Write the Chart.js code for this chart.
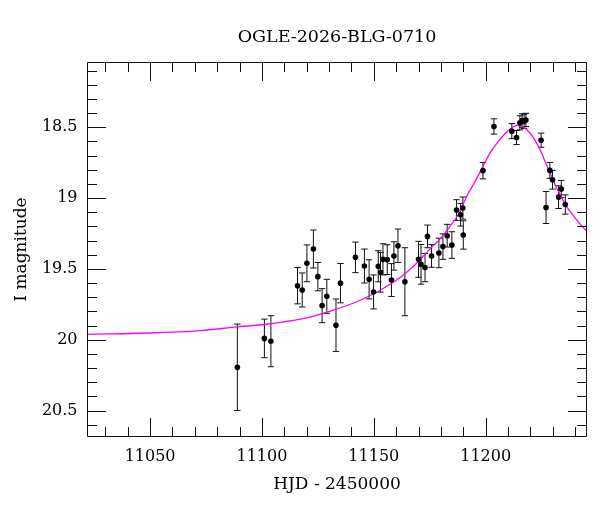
<!DOCTYPE html>
<html>
<head>
<meta charset="utf-8">
<script src="https://cdn.jsdelivr.net/npm/chart.js@4.4.1/dist/chart.umd.min.js"></script>
<style>
  html, body { margin: 0; padding: 0; background: #fff; }
  #wrap { width: 600px; height: 512px; }
</style>
</head>
<body>
<div id="wrap"><canvas id="c" width="600" height="512"></canvas></div>
<script>
// ---- data ----
const titleText = "OGLE-2026-BLG-0710";
const xTitle = "HJD - 2450000";
const yTitle = "I magnitude";

const obsDays = [11089.0, 11101.1, 11104.0, 11115.9, 11118.0, 11120.1, 11123.0, 11125.0, 11126.9, 11129.0,
  11133.1, 11135.1, 11141.8, 11145.8, 11147.9, 11149.9, 11152.0, 11153.0, 11154.1, 11156.0,
  11157.9, 11159.0, 11160.8, 11163.9, 11170.0, 11171.1, 11172.9, 11174.0, 11175.8, 11179.1,
  11180.9, 11182.8, 11184.9, 11187.0, 11188.8, 11189.8, 11190.0, 11198.8, 11203.7, 11211.7,
  11213.8, 11215.3, 11216.3, 11217.2, 11218.0, 11224.8, 11227.0, 11228.7, 11229.9, 11232.6,
  11233.8, 11235.6];
const obsMags = [20.194, 19.99, 20.01, 19.618, 19.648, 19.46, 19.359, 19.554, 19.759, 19.693,
  19.897, 19.60, 19.418, 19.479, 19.573, 19.662, 19.481, 19.523, 19.432, 19.434,
  19.578, 19.408, 19.336, 19.59, 19.432, 19.467, 19.49, 19.27, 19.408, 19.387,
  19.342, 19.265, 19.331, 19.084, 19.117, 19.07, 19.26, 18.806, 18.494, 18.527,
  18.572, 18.468, 18.452, 18.458, 18.448, 18.591, 19.066, 18.804, 18.87, 18.993,
  18.935, 19.045];
const obsErrs = [0.305, 0.136, 0.18, 0.128, 0.12, 0.13, 0.134, 0.10, 0.12, 0.12,
  0.185, 0.139, 0.108, 0.12, 0.138, 0.12, 0.11, 0.14, 0.11, 0.105,
  0.116, 0.10, 0.118, 0.24, 0.127, 0.14, 0.10, 0.08, 0.08, 0.104,
  0.09, 0.08, 0.094, 0.073, 0.08, 0.078, 0.10, 0.058, 0.054, 0.053,
  0.05, 0.05, 0.048, 0.05, 0.047, 0.05, 0.113, 0.056, 0.066, 0.08,
  0.06, 0.068];

const modelDays = [11021.8, 11050, 11072.4, 11088, 11102, 11110.4, 11120, 11132, 11141, 11150,
  11156, 11161.8, 11166, 11170, 11175, 11180, 11184.2, 11188, 11191.6, 11195,
  11199.1, 11202, 11205, 11207.5, 11209.5, 11211.5, 11213.5, 11215, 11216.5, 11218,
  11219.9, 11222, 11224.4, 11226.5, 11228.9, 11231, 11233.4, 11235.5, 11237.8, 11241, 11245.3];
const modelMags = [19.961, 19.952, 19.935, 19.910, 19.890, 19.872, 19.845, 19.790, 19.740, 19.675,
  19.62, 19.56, 19.505, 19.445, 19.36, 19.28, 19.195, 19.11, 18.985, 18.89,
  18.766, 18.68, 18.613, 18.565, 18.531, 18.505, 18.488, 18.485, 18.493, 18.512,
  18.542, 18.59, 18.66, 18.74, 18.825, 18.905, 18.978, 19.04, 19.096, 19.16, 19.237];

const xTickLabels = [11050, 11100, 11150, 11200];
const yTickLabels = [18.5, 19, 19.5, 20, 20.5];
const xMinorStep = 10;
const yMinorStep = 0.1;

const FONT = "'DejaVu Serif', 'Liberation Serif', serif";

const obsPoints = obsDays.map((d, i) => ({ x: d, y: obsMags[i] }));
const modelPoints = modelDays.map((d, i) => ({ x: d, y: modelMags[i] }));

// ---- plugins ----
const errorBars = {
  id: 'errorBars',
  beforeDatasetsDraw(chart) {
    const { ctx, scales: { x, y } } = chart;
    ctx.save();
    ctx.beginPath();
    ctx.rect(chart.chartArea.left, chart.chartArea.top, chart.chartArea.width, chart.chartArea.height);
    ctx.clip();
    ctx.strokeStyle = '#111';
    ctx.lineWidth = 1;
    obsDays.forEach((d, i) => {
      const px = x.getPixelForValue(d);
      const y1 = y.getPixelForValue(obsMags[i] - obsErrs[i]);
      const y2 = y.getPixelForValue(obsMags[i] + obsErrs[i]);
      ctx.beginPath();
      ctx.moveTo(px, y1); ctx.lineTo(px, y2);
      ctx.moveTo(px - 3.2, y1); ctx.lineTo(px + 3.2, y1);
      ctx.moveTo(px - 3.2, y2); ctx.lineTo(px + 3.2, y2);
      ctx.stroke();
    });
    ctx.restore();
  }
};

const frameTicks = {
  id: 'frameTicks',
  afterDraw(chart) {
    const { ctx, chartArea: a, scales: { x, y } } = chart;
    ctx.save();
    ctx.strokeStyle = '#111';
    ctx.lineWidth = 1;
    ctx.beginPath();
    ctx.rect(a.left + 0.5, a.top + 0.5, a.width - 1, a.height - 1);
    ctx.stroke();
    const major = 19, minor = 10;
    ctx.beginPath();
    for (let v = Math.ceil(x.min / xMinorStep) * xMinorStep; v <= x.max; v += xMinorStep) {
      const isMajor = xTickLabels.some(t => Math.abs(t - v) < 1e-6);
      const len = isMajor ? major : minor;
      const px = Math.round(x.getPixelForValue(v)) + 0.5;
      ctx.moveTo(px, a.bottom); ctx.lineTo(px, a.bottom - len);
      ctx.moveTo(px, a.top); ctx.lineTo(px, a.top + len);
    }
    const yLo = Math.min(y.min, y.max), yHi = Math.max(y.min, y.max);
    for (let k = Math.ceil(yLo / yMinorStep - 1e-6); k * yMinorStep <= yHi + 1e-9; k++) {
      const v = k * yMinorStep;
      const isMajor = yTickLabels.some(t => Math.abs(t - v) < 1e-6);
      const len = isMajor ? major : minor;
      const py = Math.round(y.getPixelForValue(v)) + 0.5;
      ctx.moveTo(a.left, py); ctx.lineTo(a.left + len, py);
      ctx.moveTo(a.right, py); ctx.lineTo(a.right - len, py);
    }
    ctx.stroke();
    ctx.fillStyle = '#000';
    ctx.font = "17.5px " + FONT;
    ctx.textAlign = 'center';
    ctx.textBaseline = 'alphabetic';
    ctx.fillText(titleText, (a.left + a.right) / 2, 41.7);
    ctx.restore();
  }
};

new Chart(document.getElementById('c'), {
  type: 'scatter',
  data: {
    datasets: [
      {
        label: 'model',
        data: modelPoints,
        showLine: true,
        borderColor: '#ff00ff',
        borderWidth: 1.3,
        pointRadius: 0,
        cubicInterpolationMode: 'monotone',
        order: 2
      },
      {
        label: 'data',
        data: obsPoints,
        pointRadius: 2.8,
        pointBackgroundColor: '#000',
        pointBorderColor: '#000',
        pointBorderWidth: 0,
        showLine: false,
        order: 1
      }
    ]
  },
  options: {
    responsive: false,
    animation: false,
    devicePixelRatio: 1,
    layout: { padding: { top: 62, right: 13, left: 0, bottom: 0 } },
    plugins: { legend: { display: false }, tooltip: { enabled: false }, title: { display: false } },
    scales: {
      x: {
        type: 'linear',
        min: 11021.8,
        max: 11245.3,
        grid: { display: false, drawTicks: false },
        border: { display: false },
        afterBuildTicks: s => { s.ticks = xTickLabels.map(v => ({ value: v })); },
        afterFit: s => { s.height = 75; },
        ticks: {
          color: '#000',
          font: { family: FONT, size: 16 },
          padding: 10,
          maxRotation: 0,
          autoSkip: false,
          callback: v => String(v)
        },
        title: {
          display: true,
          text: xTitle,
          color: '#000',
          font: { family: FONT, size: 17 },
          padding: { top: 0, bottom: 17 }
        }
      },
      y: {
        type: 'linear',
        reverse: true,
        min: 18.039,
        max: 20.686,
        grid: { display: false, drawTicks: false },
        border: { display: false },
        afterBuildTicks: s => { s.ticks = yTickLabels.map(v => ({ value: v })); },
        afterFit: s => { s.width = 87; },
        ticks: {
          color: '#000',
          font: { family: FONT, size: 16 },
          padding: 9.5,
          autoSkip: false,
          callback: v => String(v)
        },
        title: {
          display: true,
          text: yTitle,
          color: '#000',
          font: { family: FONT, size: 17 },
          padding: { top: 11, bottom: 0 }
        }
      }
    }
  },
  plugins: [errorBars, frameTicks]
});
</script>
</body>
</html>
